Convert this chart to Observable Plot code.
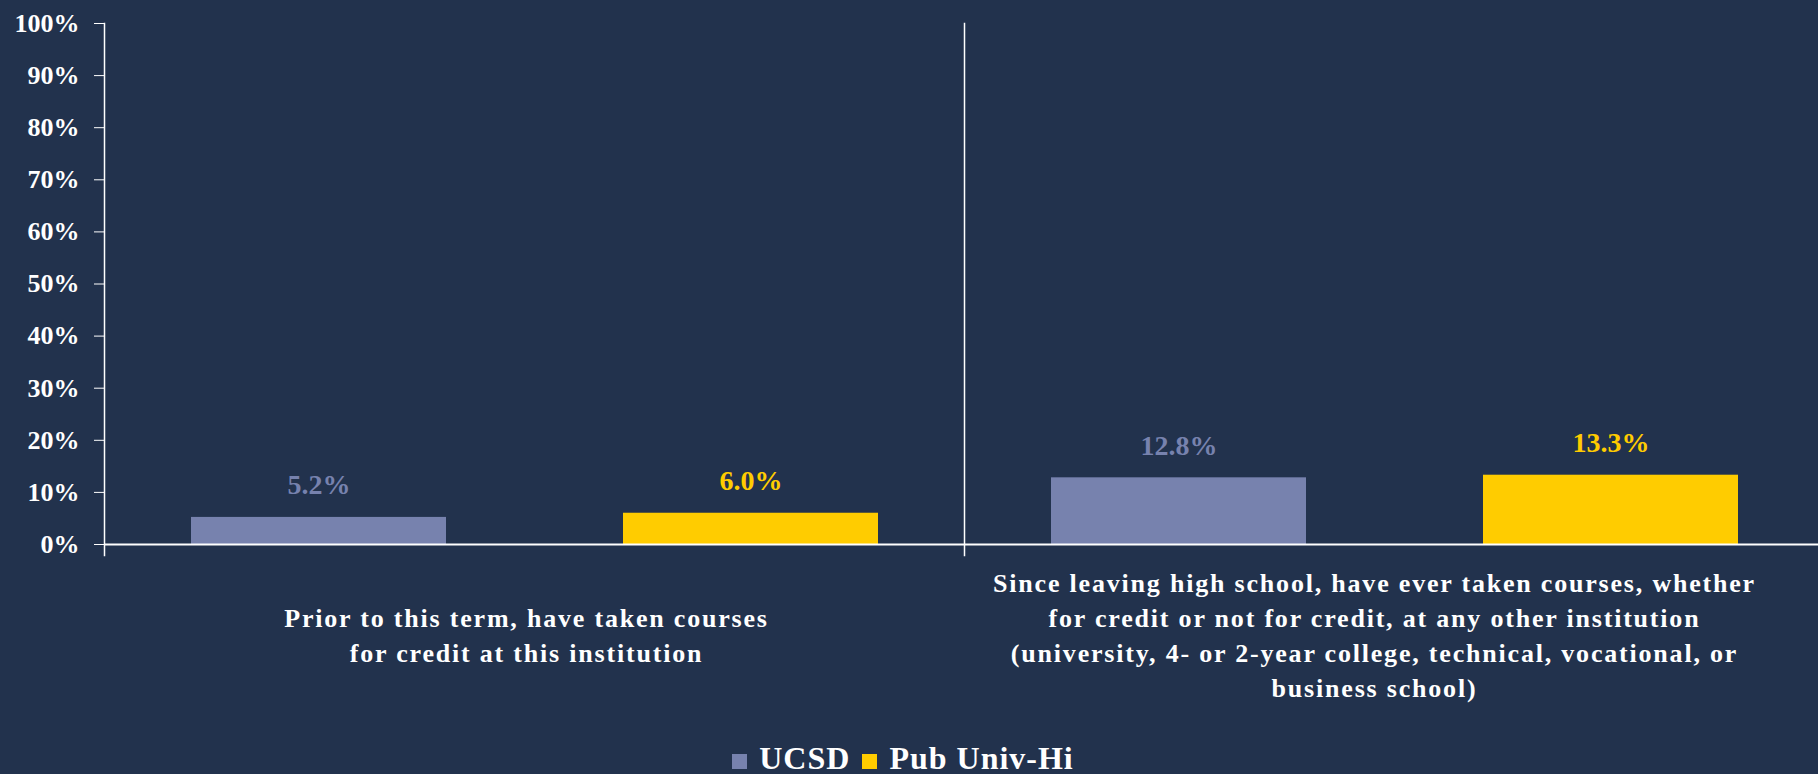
<!DOCTYPE html>
<html>
<head>
<meta charset="utf-8">
<script src="https://cdn.jsdelivr.net/npm/d3@7"></script>
<script src="https://cdn.jsdelivr.net/npm/@observablehq/plot@0.6"></script>
<style>
  html, body { margin: 0; padding: 0; background: #22324D; }
  #chart { width: 1818px; height: 774px; overflow: hidden; background: #22324D; }
  #legend { text-align: center; font-family: "Liberation Serif", serif; font-weight: bold; font-size: 32px; line-height: 40px; color: #fff; letter-spacing: 1px; white-space: nowrap; padding-right: 12px; }
  #legend .sw { display: inline-block; width: 15px; height: 15px; margin: 0 12px 0 0; vertical-align: baseline; }
  #legend .item { margin: 0 6px; }
  .catlabel text { letter-spacing: 1.8px; }
</style>
</head>
<body>
<div id="chart"></div>
<script>
const categories = [
  "Prior to this term, have taken courses\nfor credit at this institution",
  "Since leaving high school, have ever taken courses, whether\nfor credit or not for credit, at any other institution\n(university, 4- or 2-year college, technical, vocational, or\nbusiness school)"
];
const series = ["UCSD", "Pub Univ-Hi"];
const ucsdValues = [5.2, 12.8];
const pubValues = [6.0, 13.3];
const yTicks = [0, 10, 20, 30, 40, 50, 60, 70, 80, 90, 100];
const colors = ["#7782AE", "#FFCC00"];

const data = [];
categories.forEach((c, i) => {
  data.push({category: c, series: series[0], value: ucsdValues[i]});
  data.push({category: c, series: series[1], value: pubValues[i]});
});

const font = "'Liberation Serif', serif";
const catStyle = {fx: d => d, text: d => d, frameAnchor: "bottom", lineAnchor: "middle",
  dy: 89, lineHeight: 1.35, fontSize: 26, fontWeight: "bold", fill: "#fff", fontFamily: font,
  className: "catlabel"};

const plot = Plot.plot({
  width: 1818,
  height: 738,
  marginLeft: 104,
  marginRight: -6,
  marginTop: 23,
  marginBottom: 194,
  style: {background: "#22324D", color: "#fff", fontFamily: font, overflow: "visible"},
  fx: {domain: categories, padding: 0, axis: null},
  x: {domain: series, paddingInner: 0.41, paddingOuter: 0.2, axis: null},
  y: {domain: [0, 100], axis: null},
  color: {domain: series, range: colors},
  marks: [
    Plot.barY(data, {fx: "category", x: "series", y: "value", fill: "series"}),
    Plot.text(data, {fx: "category", x: "series", y: "value", text: d => d.value.toFixed(1) + "%",
      fill: "series", lineAnchor: "bottom", dy: -23, fontSize: 28, fontWeight: "bold", fontFamily: font}),
    Plot.ruleY([0], {stroke: "#fff", strokeWidth: 2}),
    Plot.frame({anchor: "left", stroke: "#fff", strokeWidth: 1.5, insetBottom: -11}),
    Plot.axisY({ticks: yTicks, tickFormat: d => d + "%", tickSize: 10, tickPadding: 15, label: null,
      stroke: "#fff", fill: "#fff", fontSize: 26, fontWeight: "bold", fontFamily: font}),
    Plot.text([categories[0]], {...catStyle, dx: -8}),
    Plot.text([categories[1]], {...catStyle, dx: -20})
  ]
});

const chart = document.getElementById("chart");
chart.appendChild(plot);

const legend = document.createElement("div");
legend.id = "legend";
series.forEach((s, i) => {
  const item = document.createElement("span");
  item.className = "item";
  const sw = document.createElement("span");
  sw.className = "sw";
  sw.style.background = colors[i];
  item.appendChild(sw);
  item.appendChild(document.createTextNode(s));
  legend.appendChild(item);
});
chart.appendChild(legend);
</script>
</body>
</html>
